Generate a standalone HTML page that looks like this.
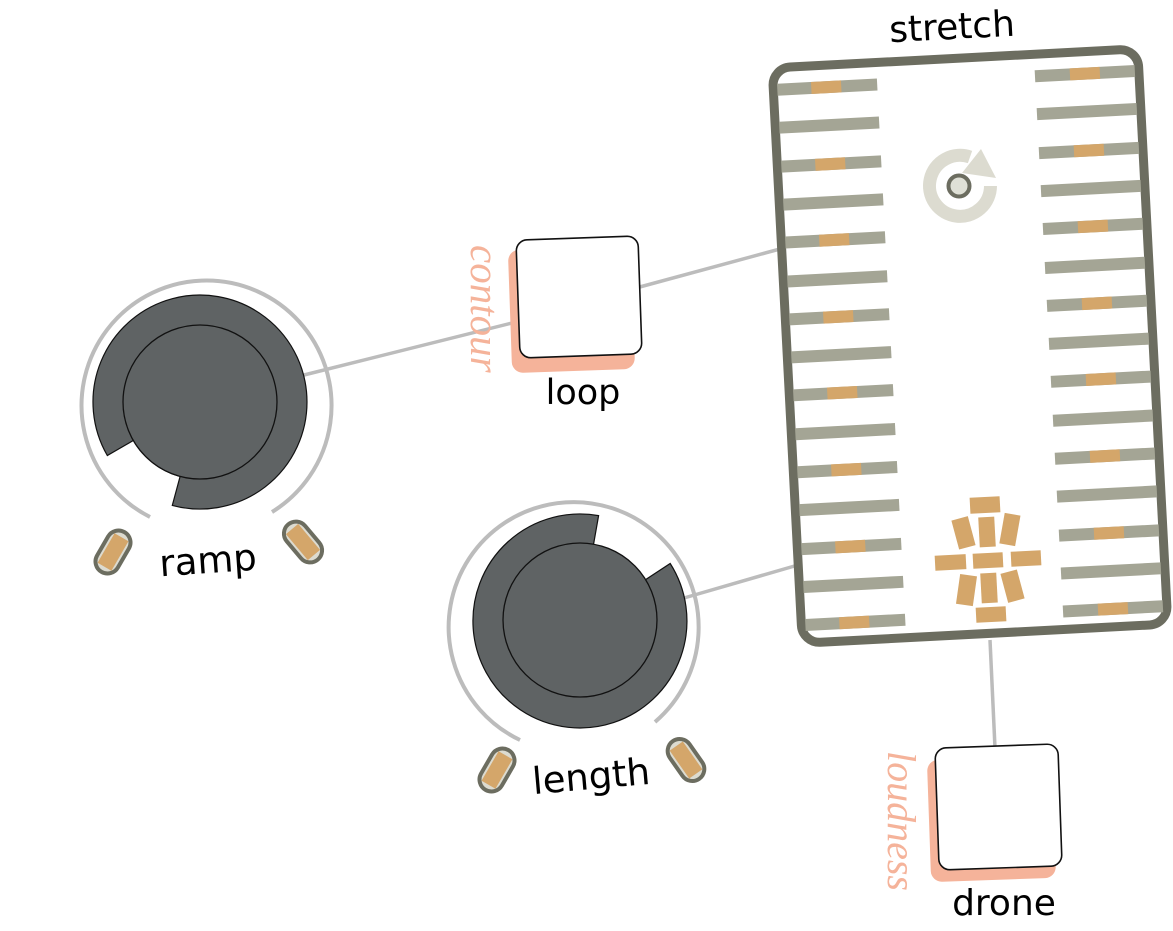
<!DOCTYPE html>
<html><head><meta charset="utf-8"><style>
html,body{margin:0;padding:0;background:#fff;}
svg{display:block;}
text{font-family:"DejaVu Sans","Liberation Sans",sans-serif;}
text.it{font-family:"Liberation Serif",serif;font-style:italic;}
</style></head><body>
<svg width="1173" height="931" viewBox="0 0 1173 931" xmlns="http://www.w3.org/2000/svg">
<g stroke="#bcbcbc" stroke-width="3.5" fill="none">
<line x1="300" y1="376" x2="520" y2="321"/>
<line x1="636" y1="288" x2="780" y2="249"/>
<line x1="684" y1="598" x2="798" y2="565"/>
<line x1="990" y1="640" x2="995" y2="748"/>
</g>

<!-- stretch box -->
<g transform="rotate(-3 970 346)">
<rect x="787" y="58" width="366" height="576" rx="18" fill="#fff" stroke="#6c6d60" stroke-width="9"/>
<g fill="#a4a595">
<rect x="791" y="74" width="100" height="12"/><rect x="791" y="112" width="100" height="12"/><rect x="791" y="151" width="100" height="12"/><rect x="791" y="189" width="100" height="12"/><rect x="791" y="227" width="100" height="12"/><rect x="791" y="266" width="100" height="12"/><rect x="791" y="304" width="100" height="12"/><rect x="791" y="342" width="100" height="12"/><rect x="791" y="380" width="100" height="12"/><rect x="791" y="419" width="100" height="12"/><rect x="791" y="457" width="100" height="12"/><rect x="791" y="495" width="100" height="12"/><rect x="791" y="534" width="100" height="12"/><rect x="791" y="572" width="100" height="12"/><rect x="791" y="610" width="100" height="12"/>
<rect x="1049" y="74" width="100" height="12"/><rect x="1049" y="112" width="100" height="12"/><rect x="1049" y="151" width="100" height="12"/><rect x="1049" y="189" width="100" height="12"/><rect x="1049" y="227" width="100" height="12"/><rect x="1049" y="266" width="100" height="12"/><rect x="1049" y="304" width="100" height="12"/><rect x="1049" y="342" width="100" height="12"/><rect x="1049" y="380" width="100" height="12"/><rect x="1049" y="419" width="100" height="12"/><rect x="1049" y="457" width="100" height="12"/><rect x="1049" y="495" width="100" height="12"/><rect x="1049" y="534" width="100" height="12"/><rect x="1049" y="572" width="100" height="12"/><rect x="1049" y="610" width="100" height="12"/>
</g>
<g fill="#d4a66a">
<rect x="825" y="74" width="30" height="12"/><rect x="825" y="151" width="30" height="12"/><rect x="825" y="227" width="30" height="12"/><rect x="825" y="304" width="30" height="12"/><rect x="825" y="380" width="30" height="12"/><rect x="825" y="457" width="30" height="12"/><rect x="825" y="534" width="30" height="12"/><rect x="825" y="610" width="30" height="12"/>
<rect x="1084" y="74" width="30" height="12"/><rect x="1084" y="151" width="30" height="12"/><rect x="1084" y="227" width="30" height="12"/><rect x="1084" y="304" width="30" height="12"/><rect x="1084" y="380" width="30" height="12"/><rect x="1084" y="457" width="30" height="12"/><rect x="1084" y="534" width="30" height="12"/><rect x="1084" y="610" width="30" height="12"/>
</g>
</g>
<text x="952" y="39" font-size="36" text-anchor="middle" transform="rotate(-3 952 26)">stretch</text>

<!-- rotate icon -->
<path d="M990.5 186 A30.5 30.5 0 1 1 970 157" fill="none" stroke="#dcdbd0" stroke-width="13"/>
<polygon points="981,149 996,178 962,173" fill="#dcdbd0"/>
<circle cx="959" cy="186" r="10.5" fill="#dfe0d6" stroke="#6c6d60" stroke-width="4"/>

<!-- bricks -->
<g fill="#d4a66a">
<rect x="970" y="497" width="30" height="16" transform="rotate(-3 985 505)"/>
<rect x="955" y="518" width="17" height="30" transform="rotate(-15 963 533)"/>
<rect x="979" y="517" width="16" height="30" transform="rotate(-3 987 532)"/>
<rect x="1002" y="514" width="16" height="31" transform="rotate(10 1010 529)"/>
<rect x="935" y="555" width="31" height="15" transform="rotate(-3 950 562)"/>
<rect x="973" y="553" width="30" height="15" transform="rotate(-3 988 561)"/>
<rect x="1011" y="551" width="30" height="15" transform="rotate(-3 1026 558)"/>
<rect x="958" y="575" width="17" height="30" transform="rotate(8 966 590)"/>
<rect x="981" y="573" width="16" height="30" transform="rotate(-3 989 588)"/>
<rect x="1004" y="571" width="17" height="30" transform="rotate(-15 1013 586)"/>
<rect x="976" y="607" width="30" height="15" transform="rotate(-3 991 614)"/>
</g>

<!-- ramp knob -->
<path d="M150 517 A125 125 0 1 1 272 512" fill="none" stroke="#bcbcbc" stroke-width="4"/>
<path d="M107.3 455.5 A107 107 0 1 1 172.3 505.4 L180.1 476.4 A77 77 0 0 1 133.3 440.5 Z" fill="#5f6364" stroke="#111" stroke-width="1.2"/>
<circle cx="200" cy="402" r="77" fill="#5f6364" stroke="#111" stroke-width="1.3"/>
<g transform="rotate(30 113 552)"><rect x="101" y="529" width="24" height="46" rx="12" fill="#dcdbd0" stroke="#6c6d60" stroke-width="4"/><rect x="105" y="535" width="16" height="34" fill="#d4a66a"/></g>
<g transform="rotate(-40 303 542)"><rect x="291" y="519" width="24" height="46" rx="12" fill="#dcdbd0" stroke="#6c6d60" stroke-width="4"/><rect x="295" y="525" width="16" height="34" fill="#d4a66a"/></g>
<text x="208" y="573" font-size="37" text-anchor="middle" transform="rotate(-4 208 560)">ramp</text>

<!-- length knob -->
<path d="M520 740 A125 125 0 1 1 655 722" fill="none" stroke="#bcbcbc" stroke-width="4"/>
<path d="M598.6 515.6 A107 107 0 1 0 670.2 563.5 L645 580 A77 77 0 0 0 593.4 545.2 Z" fill="#5f6364" stroke="#111" stroke-width="1.2"/>
<circle cx="580" cy="620" r="77" fill="#5f6364" stroke="#111" stroke-width="1.3"/>
<g transform="rotate(30 497 770)"><rect x="485" y="747" width="24" height="46" rx="12" fill="#dcdbd0" stroke="#6c6d60" stroke-width="4"/><rect x="489" y="753" width="16" height="34" fill="#d4a66a"/></g>
<g transform="rotate(-35 686 760)"><rect x="674" y="737" width="24" height="46" rx="12" fill="#dcdbd0" stroke="#6c6d60" stroke-width="4"/><rect x="678" y="743" width="16" height="34" fill="#d4a66a"/></g>
<text x="591" y="789" font-size="37" text-anchor="middle" transform="rotate(-5 591 775)">length</text>

<!-- loop -->
<rect x="510" y="248" width="123" height="123" rx="11" fill="#f5b39a" transform="rotate(-2 572 310)"/>
<rect x="518" y="238" width="122" height="118" rx="11" fill="#fff" stroke="#111" stroke-width="1.6" transform="rotate(-2 579 297)"/>
<text class="it" x="0" y="0" font-size="41" fill="#f5b39a" transform="translate(471 245) rotate(90)">contour</text>
<text x="583" y="404" font-size="35" text-anchor="middle">loop</text>

<!-- drone -->
<rect x="929" y="758" width="125" height="122" rx="11" fill="#f5b39a" transform="rotate(-2 991 819)"/>
<rect x="937" y="746" width="123" height="122" rx="11" fill="#fff" stroke="#111" stroke-width="1.6" transform="rotate(-2 998 807)"/>
<text class="it" x="0" y="0" font-size="40" fill="#f5b39a" transform="translate(888 751) rotate(90)">loudness</text>
<text x="1004" y="915" font-size="36" text-anchor="middle">drone</text>
</svg>
</body></html>
